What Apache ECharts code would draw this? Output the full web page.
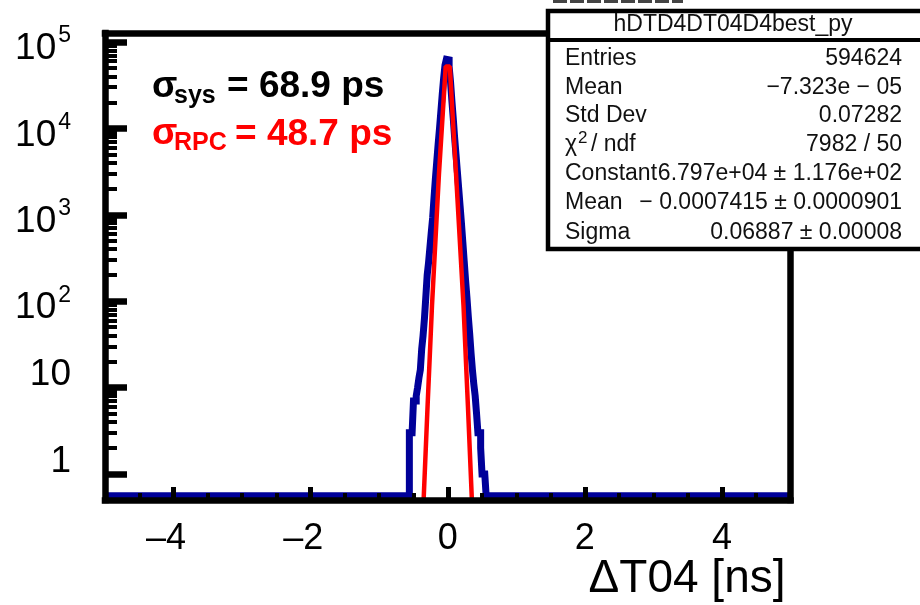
<!DOCTYPE html>
<html>
<head>
<meta charset="utf-8">
<script src="https://cdn.jsdelivr.net/npm/echarts@6/dist/echarts.min.js"></script>
<style>
html,body{margin:0;padding:0;background:#fff;}
#chart{width:920px;height:605px;}
</style>
</head>
<body>
<div id="chart"></div>
<script>
// ---- data ----
const binLeftEdges = [-0.56,-0.54,-0.52,-0.50,-0.48,-0.46,-0.44,-0.42,-0.40,-0.38,-0.36,-0.34,-0.32,-0.30,-0.28,-0.26,-0.24,-0.22,-0.20,-0.18,-0.16,-0.14,-0.12,-0.10,-0.08,-0.06,-0.04,-0.02,
  0.00,0.02,0.04,0.06,0.08,0.10,0.12,0.14,0.16,0.18,0.20,0.22,0.24,0.26,0.28,0.30,0.32,0.34,0.36,0.38,0.40,0.42,0.44,0.46,0.48,0.50,0.52,0.54];
const binCounts = [3,3,3,7,7,8,10,13,16,28,40,63,112,200,280,420,630,930,1580,2630,4170,6600,10000,15800,25000,38000,54000,63000,
  62000,52000,35000,21000,13200,7900,5000,3160,2000,1260,790,480,290,175,110,66,42,25,16,11,8,5,3,3,2,1,1,1];
const binWidth = 0.02;
const emptyLevel = 0.56;          // where empty bins are drawn (frame floor)
const fitX = [-0.352,-0.294,-0.23,-0.128,-0.03,0.03,0.12,0.23,0.294,0.352];
const fitY = [0.5,6.2,88,3000,52000,52000,3076,88,6.2,0.5];

const xTickValues = [-4,-2,0,2,4];
const xTickLabels = ['\u20134','\u20132','0','2','4'];
const xMinorTicks = [-4.5,-3.5,-3,-2.5,-1.5,-1,-0.5,0.5,1,1.5,2.5,3,3.5,4.5];
const yTickValues = [1,10,100,1000,10000,100000];
const yTickLabels = ['1','10','10^2','10^3','10^4','10^5'];
const yMinorTicks = [2,3,4,5,6,7,8,9,20,30,40,50,60,70,80,90,200,300,400,500,600,700,800,900,
  2000,3000,4000,5000,6000,7000,8000,9000,20000,30000,40000,50000,60000,70000,80000,90000];

const statsTitle = 'hDTD4DT04D4best_py';
const statsNames = ['Entries','Mean','Std Dev','','Constant','Mean','Sigma'];
const statsValues = ['594624','\u22127.323e \u2212 05','0.07282','7982 / 50','6.797e+04 \u00b1 1.176e+02','\u2212 0.0007415 \u00b1 0.0000901','0.06887 \u00b1 0.00008'];

// ---- build series data ----
const histData = [[-5, emptyLevel]];
binLeftEdges.forEach((e, i) => histData.push([e, binCounts[i]]));
histData.push([binLeftEdges[binLeftEdges.length - 1] + binWidth, emptyLevel]);
histData.push([5, emptyLevel]);
const fitData = fitX.map((x, i) => [x, fitY[i]]);

const FF = '"Liberation Sans", Arial, Helvetica, sans-serif';

function yLabel(v) {
  let idx = -1;
  yTickValues.forEach((t, i) => { if (Math.abs(Math.log10(v) - Math.log10(t)) < 1e-6) idx = i; });
  if (idx < 0) return '';
  const s = yTickLabels[idx];
  if (s.indexOf('^') >= 0) {
    const p = s.split('^');
    return '{b|' + p[0] + '}{e|' + p[1] + '}';
  }
  return '{p|' + s + '}';
}
function xLabel(v) {
  let idx = -1;
  xTickValues.forEach((t, i) => { if (Math.abs(v - t) < 1e-6) idx = i; });
  if (idx < 0) return '';
  return (xTickValues[idx] < 0 ? '{n|' : '{d|') + xTickLabels[idx] + '}';
}

const chart = echarts.init(document.getElementById('chart'), null, {renderer: 'canvas'});

const graphics = [
  {type:'line', shape:{x1:553,y1:1.5,x2:683,y2:1.5}, style:{stroke:'#444', lineWidth:3, lineDash:[14,3]}, z:100},
  {type:'rect', shape:{x:548,y:11,width:400,height:238}, style:{fill:'#fff', stroke:'#000', lineWidth:4.5}, z:100},
  {type:'line', shape:{x1:548,y1:40,x2:930,y2:40}, style:{stroke:'#000', lineWidth:4}, z:101},
  {type:'text', x:733, y:25, z:102, style:{text:statsTitle, font:'23px ' + FF, fill:'#111', align:'center', verticalAlign:'middle', textAlign:'center', textVerticalAlign:'middle'}}
];
const rowY = [59, 88, 116, 145, 174, 203, 233];
statsNames.forEach((n, i) => {
  if (n) graphics.push({type:'text', x:565, y:rowY[i], z:102, style:{text:n, font:'23px ' + FF, fill:'#111', align:'left', verticalAlign:'middle', textAlign:'left', textVerticalAlign:'middle'}});
  graphics.push({type:'text', x:902, y:rowY[i], z:102, style:{text:statsValues[i], font:'23px ' + FF, fill:'#111', align:'right', verticalAlign:'middle', textAlign:'right', textVerticalAlign:'middle'}});
});
// chi2 / ndf label
graphics.push({type:'text', x:565, y:rowY[3], z:102, style:{text:'\u03c7', font:'23px ' + FF, fill:'#111', align:'left', verticalAlign:'middle', textAlign:'left', textVerticalAlign:'middle'}});
graphics.push({type:'text', x:578, y:138, z:102, style:{text:'2', font:'17px ' + FF, fill:'#111', align:'left', verticalAlign:'middle', textAlign:'left', textVerticalAlign:'middle'}});
graphics.push({type:'text', x:591, y:rowY[3], z:102, style:{text:'/ ndf', font:'23px ' + FF, fill:'#111', align:'left', verticalAlign:'middle', textAlign:'left', textVerticalAlign:'middle'}});

// sigma annotations
function t(x, y, text, size, color) {
  return {type:'text', x:x, y:y, z:90, style:{text:text, font:'bold ' + size + 'px ' + FF, fill:color, align:'left', verticalAlign:'middle', textAlign:'left', textVerticalAlign:'middle'}};
}
graphics.push(t(152, 86.5, '\u03c3', 37, '#000'));
graphics.push(t(174, 96.3, 'sys', 25, '#000'));
graphics.push(t(227, 87, '= 68.9 ps', 37, '#000'));
graphics.push(t(152, 134, '\u03c3', 37, '#ff0000'));
graphics.push(t(174, 143.3, 'RPC', 25, '#ff0000'));
graphics.push(t(235, 134.5, '= 48.7 ps', 37, '#ff0000'));

const lineBlack = {color:'#000', width:6.5, cap:'square'};

const option = {
  animation: false,
  backgroundColor: '#fff',
  grid: {left:105, right:129.5, top:33, bottom:105, containLabel:false, outerBoundsMode:'none'},
  xAxis: [
    {type:'value', min:-5, max:5, position:'bottom', z:5,
     axisLine:{show:true, onZero:false, lineStyle:lineBlack},
     axisTick:{show:true, inside:true, length:13, lineStyle:{color:'#000', width:5}, customValues:xTickValues},
     axisLabel:{show:true, customValues:xTickValues, formatter:xLabel, color:'#000', margin:21,
       rich:{
         n:{fontSize:36, fontFamily:FF, color:'#000', padding:[0,15,0,0]},
         d:{fontSize:36, fontFamily:FF, color:'#000'}
       }},
     splitLine:{show:false},
     name:'\u0394T04 [ns]', nameLocation:'end', nameGap:-5, nameMoveOverlap:false,
     nameTextStyle:{fontSize:46, fontFamily:FF, color:'#000', align:'right', verticalAlign:'top', padding:[56,0,0,0]}},
    {type:'value', min:-5, max:5, position:'bottom', z:5,
     axisLine:{show:false, onZero:false},
     axisTick:{show:true, inside:true, length:7, lineStyle:{color:'#000', width:4}, customValues:xMinorTicks},
     axisLabel:{show:false}, splitLine:{show:false}},
    {type:'value', min:-5, max:5, position:'top', z:5,
     axisLine:{show:true, onZero:false, lineStyle:lineBlack},
     axisTick:{show:false}, axisLabel:{show:false}, splitLine:{show:false}}
  ],
  yAxis: [
    {type:'log', logBase:10, min:0.5, max:127000, position:'left', z:5,
     axisLine:{show:true, onZero:false, lineStyle:lineBlack},
     axisTick:{show:true, inside:true, length:22, lineStyle:{color:'#000', width:6.5}, customValues:yTickValues},
     axisLabel:{show:true, customValues:yTickValues, formatter:yLabel, margin:34, color:'#000',
       rich:{
         b:{fontSize:37, fontFamily:FF, color:'#000', padding:[14,0,0,0]},
         e:{fontSize:23, fontFamily:FF, color:'#000', verticalAlign:'top', padding:[8,0,0,2]},
         p:{fontSize:37, fontFamily:FF, color:'#000', padding:[0,0,25,0]}
       }},
     splitLine:{show:false}},
    {type:'log', logBase:10, min:0.5, max:127000, position:'left', z:5,
     axisLine:{show:false, onZero:false},
     axisTick:{show:true, inside:true, length:12, lineStyle:{color:'#000', width:4}, customValues:yMinorTicks},
     axisLabel:{show:false}, splitLine:{show:false}},
    {type:'log', logBase:10, min:0.5, max:127000, position:'right', z:5,
     axisLine:{show:true, onZero:false, lineStyle:lineBlack},
     axisTick:{show:false}, axisLabel:{show:false}, splitLine:{show:false}}
  ],
  series: [
    {type:'line', name:'hist', xAxisIndex:0, yAxisIndex:0, data:histData, step:'end',
     showSymbol:false, symbol:'none', z:2, clip:true,
     lineStyle:{color:'#000099', width:7, join:'miter'}},
    {type:'line', name:'fit', xAxisIndex:0, yAxisIndex:0, data:fitData,
     showSymbol:false, symbol:'none', z:3, clip:true,
     lineStyle:{color:'#ff0000', width:4.5}}
  ],
  graphic: graphics
};
chart.setOption(option);
</script>
</body>
</html>
